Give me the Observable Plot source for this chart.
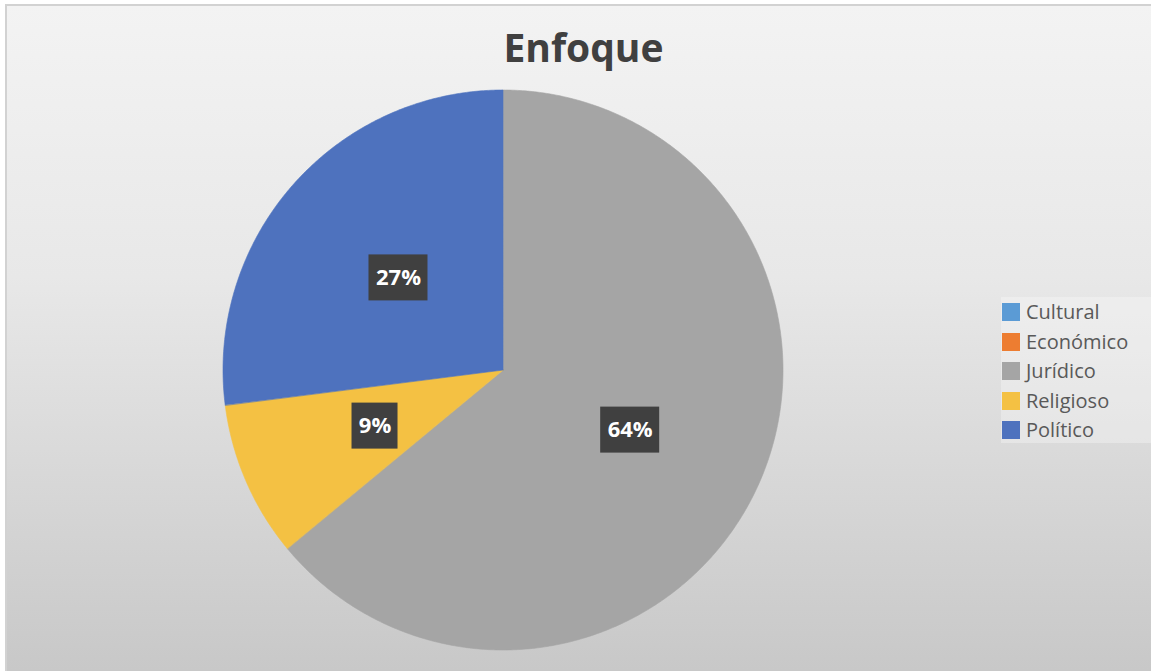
<!DOCTYPE html>
<html>
<head>
<meta charset="utf-8">
<script src="https://cdn.jsdelivr.net/npm/d3@7"></script>
<script src="https://cdn.jsdelivr.net/npm/@observablehq/plot@0.6"></script>
<style>
  html, body { margin: 0; padding: 0; width: 1151px; height: 671px; overflow: hidden; background: #ffffff; }
  #bg { position: absolute; left: 5px; top: 4px; width: 1160px; height: 680px;
        border: 2px solid #d2d2d2; box-sizing: border-box;
        background: linear-gradient(to bottom, #f3f3f3 0%, #e8e8e8 40%, #c7c7c7 100%); }
  #chart { position: absolute; left: 0; top: 0; }
  #legend { position: absolute; left: 1001px; top: 297px; width: 160px; height: 146px;
            background: rgba(255,255,255,0.30); font-family: "Open Sans", sans-serif; }
  .row { position: absolute; left: 1px; height: 20px; display: flex; align-items: center; }
  .sw { width: 18px; height: 18px; margin-right: 6px; }
  .lb { font-size: 20px; color: #595959; line-height: 20px; white-space: nowrap; }
</style>
</head>
<body>
<div id="bg"></div>
<div id="chart"></div>
<div id="legend"></div>
<script>
const title = "Enfoque";
const categories = ["Cultural", "Económico", "Jurídico", "Religioso", "Político"];
const values = [0, 0, 64, 9, 27];
const colors = ["#5b9bd5", "#ed7d31", "#a5a5a5", "#f4c143", "#4e72be"];

const rows = categories.map((c, i) => ({category: c, value: values[i]}));
const arcs = d3.pie().value(d => d.value).sort(null).startAngle(0).endAngle(2 * Math.PI)(rows);

// sample the arc of each slice (angles from d3.pie)
const slicePoints = [];
for (const a of arcs) {
  if (a.endAngle - a.startAngle <= 0) continue;
  const n = Math.max(2, Math.ceil((a.endAngle - a.startAngle) / (Math.PI / 360)));
  for (let k = 0; k <= n; k++) {
    const t = a.startAngle + (a.endAngle - a.startAngle) * k / n;
    slicePoints.push({category: a.data.category, x: Math.sin(t), y: Math.cos(t)});
  }
}

const R = 280; // pixels per unit radius (range span / 2)
const labelData = arcs.filter(a => a.value > 0).map(a => {
  const mid = (a.startAngle + a.endAngle) / 2;
  const label = `${a.data.value}%`;
  const w = (13 * label.length + 20) / R, h = 46 / R;
  const cx = 0.5 * Math.sin(mid), cy = 0.5 * Math.cos(mid);
  return {label, cx, cy, x1: cx - w / 2, x2: cx + w / 2, y1: cy - h / 2, y2: cy + h / 2};
});

const chart = Plot.plot({
  width: 1151,
  height: 671,
  margin: 0,
  x: {domain: [-1, 1], range: [223, 783], axis: null},
  y: {domain: [1, -1], range: [90, 650], axis: null},
  color: {domain: categories, range: colors},
  style: {background: "transparent", fontFamily: "'Open Sans', sans-serif", overflow: "visible"},
  marks: [
    Plot.area(slicePoints, {x1: "x", y1: "y", x2: 0, y2: 0, z: "category", fill: "category", stroke: "category", strokeWidth: 0.6, curve: "linear"}),
    Plot.rect(labelData, {x1: "x1", x2: "x2", y1: "y1", y2: "y2", fill: "#404040"}),
    Plot.text(labelData, {x: "cx", y: "cy", text: "label", fill: "white", fontSize: 22, fontWeight: "bold"}),
    Plot.text([title], {frameAnchor: "top", dx: 7.5, dy: 34, text: d => d, fontSize: 39, fontWeight: "bold", fill: "#404040"})
  ]
});
document.getElementById("chart").appendChild(chart);

const color = chart.scale("color");
const legend = document.getElementById("legend");
categories.forEach((c, i) => {
  const row = document.createElement("div");
  row.className = "row";
  row.style.top = (5 + i * 29.5) + "px";
  const sw = document.createElement("div");
  sw.className = "sw";
  sw.style.background = color.apply(c);
  const lb = document.createElement("span");
  lb.className = "lb";
  lb.textContent = c;
  row.appendChild(sw);
  row.appendChild(lb);
  legend.appendChild(row);
});
</script>
</body>
</html>
